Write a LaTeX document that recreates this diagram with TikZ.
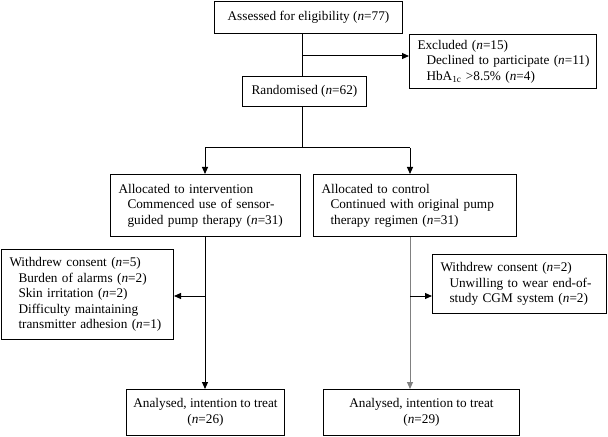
\documentclass[tikz,border=0pt]{standalone}
\usepackage{fontspec}
\setmainfont{Liberation Serif}
\usetikzlibrary{arrows.meta}
\newcommand\ind{\hspace*{9bp}}
\newcommand\nn{\textit{n}}
\begin{document}
\begin{tikzpicture}[x=1bp,y=-1bp,
  font=\fontsize{13.3}{15.7}\selectfont,
  box/.style={draw, line width=1bp, inner xsep=8bp, inner ysep=0pt, align=left, anchor=north west},
  cbox/.style={draw, line width=1bp, inner sep=0pt, align=center, anchor=north west},
  ln/.style={line width=1bp},
  arr/.style={ln, -{Triangle[length=7bp,width=6bp]}}]
\useasboundingbox (0,0) rectangle (608,437);
\fill[white] (0,0) rectangle (608,437);
\node[cbox, minimum width=188bp, minimum height=32bp] (assess) at (214,1) {Assessed for eligibility (\nn=77)};
\node[box, text width=171bp, minimum height=54bp] (excl) at (409,34) {\mbox{Excluded (\nn=15)}\\\mbox{\ind Declined to participate (\nn=11)}\\\mbox{\ind HbA\textsubscript{1c} >8.5\% (\nn=4)}};
\node[cbox, minimum width=124bp, minimum height=30bp] (rand) at (242,76) {Randomised (\nn=62)};
\node[box, text width=174bp, minimum height=62bp] (interv) at (110,174) {\mbox{Allocated to intervention}\\\mbox{\ind Commenced use of sensor-}\\\mbox{\ind guided pump therapy (\nn=31)}};
\node[box, text width=187bp, minimum height=62bp] (ctrl) at (313,174) {\mbox{Allocated to control}\\\mbox{\ind Continued with original pump}\\\mbox{\ind therapy regimen (\nn=31)}};
\node[box, text width=156bp, minimum height=90bp] (wl) at (1,249) {\mbox{Withdrew consent (\nn=5)}\\\mbox{\ind Burden of alarms (\nn=2)}\\\mbox{\ind Skin irritation (\nn=2)}\\\mbox{\ind Difficulty maintaining}\\\mbox{\ind transmitter adhesion (\nn=1)}};
\node[box, text width=158bp, minimum height=59bp] (wr) at (432,254) {\mbox{Withdrew consent (\nn=2)}\\\mbox{\ind Unwilling to wear end-of-}\\\mbox{\ind study CGM system (\nn=2)}};
\node[cbox, minimum width=158bp, minimum height=46bp] (al) at (126,389) {Analysed, intention to treat\\(\nn=26)};
\node[cbox, minimum width=196bp, minimum height=46bp] (ar) at (323,389) {Analysed, intention to treat\\(\nn=29)};
% connectors
\coordinate (c1) at (302,56);
\draw[ln] (assess.south -| c1) -- (rand.north -| c1);
\draw[arr] (c1) -- (excl.west |- c1);
\coordinate (sp) at (302,148);
\coordinate (spl) at (205,148);
\coordinate (spr) at (410,148);
\draw[ln] (rand.south -| sp) -- (sp);
\draw[ln] (spl) -- (spr);
\draw[arr] (spl) -- (interv.north -| spl);
\draw[arr] (spr) -- (ctrl.north -| spr);
\draw[arr] (interv.south -| spl) -- (al.north -| spl);
\draw[arr, draw=gray, fill=gray] (ctrl.south -| spr) -- (ar.north -| spr);
\coordinate (wlc) at (205,296);
\coordinate (wrc) at (410,296);
\draw[arr] (wlc) -- (wl.east |- wlc);
\draw[arr] (wrc) -- (wr.west |- wrc);
\end{tikzpicture}
\end{document}
